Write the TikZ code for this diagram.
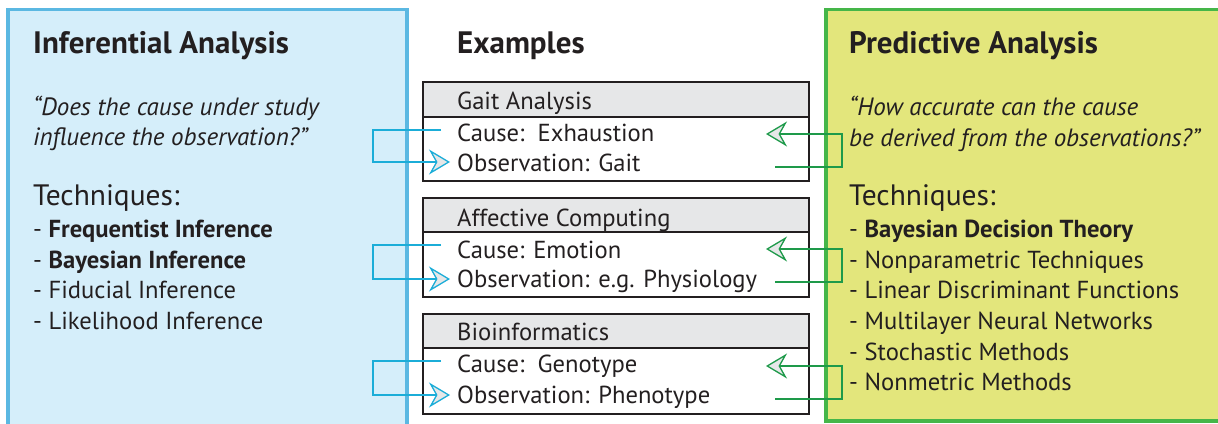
\documentclass[tikz,border=0pt]{standalone}
\usepackage{fontspec}
\setmainfont{PT Sans}
\usetikzlibrary{arrows.meta}

\definecolor{inkdark}{HTML}{231F20}
\definecolor{infFill}{HTML}{D5EEFA}
\definecolor{infEdge}{HTML}{5BB8E2}
\definecolor{predFill}{HTML}{E3E67C}
\definecolor{predEdge}{HTML}{45B649}
\definecolor{headGray}{HTML}{E6E7E8}
\definecolor{linkBlue}{HTML}{1BADD8}
\definecolor{linkGreen}{HTML}{1E9A4A}

\begin{document}
\begin{tikzpicture}[x=1pt,y=-1pt,
  txt/.style={anchor=base west, inner sep=0pt, text=inkdark},
  heading/.style={txt, font=\fontsize{31}{35}\bfseries\selectfont},
  quote/.style={txt, font=\fontsize{25}{29}\itshape\selectfont},
  techhead/.style={txt, font=\fontsize{29.5}{33}\selectfont},
  item/.style={txt, font=\fontsize{24.6}{28}\selectfont},
  boxtxt/.style={txt, font=\fontsize{24.6}{28}\selectfont},
  boxframe/.style={draw=inkdark, line width=1.6pt},
  headfill/.style={boxframe, fill=headGray},
  openhead/.style={-{Stealth[length=21pt,width=25pt,inset=7pt,fill=headGray]}},
  inflink/.style={draw=linkBlue, line width=1.3pt, openhead},
  predlink/.style={draw=linkGreen, line width=1.3pt, openhead},
]
\useasboundingbox (0,0) rectangle (1218,423);
\begin{scope}
\clip (0,0) rectangle (1218,423);
% side panels
\draw[fill=infFill, draw=infEdge, line width=3.5pt] (8,9.5) rectangle (407,440);
\draw[fill=predFill, draw=predEdge, line width=3.5pt] (826,9.5) rectangle (1240,421);
\end{scope}

% inferential panel
\node[heading] (infTitle) at (33,53) {Inferential Analysis};
\node[quote] (infQa) at (33,115) {“Does the cause under study};
\node[quote] (infQb) at (33,145) {influence the observation?”};
\node[techhead] (infTech) at (33,205) {Techniques:};
\node[item] (inf1) at (33,237) {- \textbf{Frequentist Inference}};
\node[item] (inf2) at (33,268) {- \textbf{Bayesian Inference}};
\node[item] (inf3) at (33,298) {- Fiducial Inference};
\node[item] (inf4) at (33,329) {- Likelihood Inference};

% predictive panel
\node[heading] (predTitle) at (849,53) {Predictive Analysis};
\node[quote] (predQa) at (849,115) {“How accurate can the cause};
\node[quote] (predQb) at (849,146) {be derived from the observations?”};
\node[techhead] (predTech) at (849,205) {Techniques:};
\node[item] (pred1) at (849,237) {- \textbf{Bayesian Decision Theory}};
\node[item] (pred2) at (849,268) {- Nonparametric Techniques};
\node[item] (pred3) at (849,298) {- Linear Discriminant Functions};
\node[item] (pred4) at (849,329) {- Multilayer Neural Networks};
\node[item] (pred5) at (849,360) {- Stochastic Methods};
\node[item] (pred6) at (849,390) {- Nonmetric Methods};

% examples column
\node[heading] (exTitle) at (457,53) {Examples};

% example boxes: header strip and body
\draw[headfill] (423,82) rectangle (809,117);
\draw[boxframe] (423,117) rectangle (809,181);
\draw[headfill] (423,198) rectangle (809,232);
\draw[boxframe] (423,232) rectangle (809,297);
\draw[headfill] (423,314) rectangle (809,348);
\draw[boxframe] (423,348) rectangle (809,414);

\node[boxtxt] (ex1) at (457,109) {Gait Analysis};
\node[boxtxt] (ex1c) at (457,141) {Cause:~~Exhaustion};
\node[boxtxt] (ex1o) at (457,171) {Observation: Gait};
\node[boxtxt] (ex2) at (457,226) {Affective Computing};
\node[boxtxt] (ex2c) at (457,258) {Cause: Emotion};
\node[boxtxt] (ex2o) at (457,287) {Observation: e.g. Physiology};
\node[boxtxt] (ex3) at (457,340) {Bioinformatics};
\node[boxtxt] (ex3c) at (457,372) {Cause:~~Genotype};
\node[boxtxt] (ex3o) at (457,403) {Observation: Phenotype};

% link end points
\coordinate (i1s) at (441,130); \coordinate (i1e) at (450,162);
\coordinate (i2s) at (441,245); \coordinate (i2e) at (450,279);
\coordinate (i3s) at (441,361); \coordinate (i3e) at (450,395);
\coordinate (p1s) at (775,167); \coordinate (p1e) at (766,134);
\coordinate (p2s) at (775,282); \coordinate (p2e) at (766,249);
\coordinate (p3s) at (775,399); \coordinate (p3e) at (766,366);

% inference: cause -> observation; prediction: observation -> cause
\foreach \k in {1,2,3}{
  \draw[inflink] (i\k s) -- (373,0 |- i\k s) |- (i\k e);
  \draw[predlink] (p\k s) -- (842,0 |- p\k s) |- (p\k e);
}
\end{tikzpicture}
\end{document}
